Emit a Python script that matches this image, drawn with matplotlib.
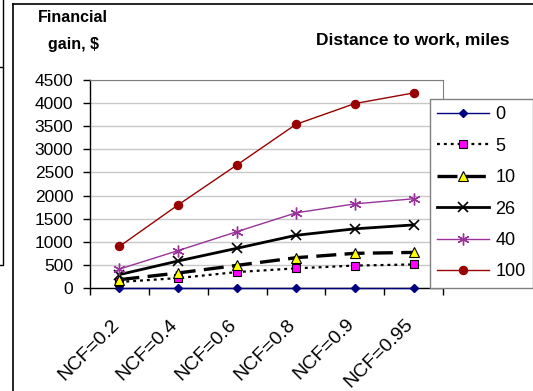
import numpy as np
import matplotlib
matplotlib.use('Agg')
import matplotlib.pyplot as plt
from matplotlib.lines import Line2D
from matplotlib.transforms import ScaledTranslation

plt.rcParams['font.family'] = ['Liberation Sans', 'DejaVu Sans']

categories = ['NCF=0.2', 'NCF=0.4', 'NCF=0.6', 'NCF=0.8', 'NCF=0.9', 'NCF=0.95']
distances = ['0', '5', '10', '26', '40', '100']

gain_0 = [0, 0, 0, 0, 0, 0]
gain_5 = [130, 215, 345, 425, 485, 510]
gain_10 = [180, 325, 490, 655, 750, 770]
gain_26 = [290, 585, 860, 1140, 1280, 1365]
gain_40 = [410, 810, 1220, 1625, 1820, 1930]
gain_100 = [900, 1800, 2665, 3540, 3990, 4220]

series = [gain_0, gain_5, gain_10, gain_26, gain_40, gain_100]

styles = [
    dict(color='#000080', lw=1.0, ls='-', marker='D', ms=4.5, mfc='#000080', mec='#000080'),
    dict(color='black', lw=1.6, ls=(0, (1.3, 1.8)), marker='s', ms=5.5, mfc='#ff00ff', mec='black', mew=0.8),
    dict(color='black', lw=2.4, ls=(0, (6, 2.5)), marker='^', ms=7, mfc='#ffff00', mec='black', mew=0.8),
    dict(color='black', lw=2.0, ls='-', marker='x', ms=6.5, mfc='black', mec='black', mew=1.2),
    dict(color='#993399', lw=1.0, ls='-', marker=(6, 2, 0), ms=8.5, mfc='#993399', mec='#993399', mew=1.0),
    dict(color='#990000', lw=1.0, ls='-', marker='o', ms=5.8, mfc='#990000', mec='#990000'),
]

W, H = 533, 391
fig = plt.figure(figsize=(W / 100, H / 100), dpi=100)
ax = fig.add_axes([90 / W, 1 - 288 / H, 353 / W, 208 / H])

x = np.arange(len(categories))
handles = []
for vals, st, lab in zip(series, styles, distances):
    line, = ax.plot(x, vals, label=lab, clip_on=False, zorder=3, **st)
    handles.append(line)

ax.set_xlim(-0.5, len(categories) - 0.5)
ax.set_ylim(0, 4500)
ax.set_yticks(np.arange(0, 4501, 500))
ax.yaxis.grid(True, color='#c8c8c8', lw=1)
ax.set_axisbelow(True)

ax.set_xticks(np.arange(-0.5, len(categories), 1.0))
ax.set_xticklabels([])
ax.set_xticks(x, minor=True)
ax.set_xticklabels(categories, minor=True, rotation=45, ha='right', va='top',
                   rotation_mode='anchor', fontsize=14)
ax.tick_params(axis='x', which='minor', length=0, pad=20)
ax.tick_params(axis='x', which='major', length=5, width=1, direction='out', color='black')
ax.tick_params(axis='y', length=5, width=1, direction='out', labelsize=12.5, pad=7)
shift = ScaledTranslation(-9 / 100, 0, fig.dpi_scale_trans)
for lbl in ax.get_xticklabels(minor=True):
    lbl.set_transform(lbl.get_transform() + shift)

for s in ['top', 'right']:
    ax.spines[s].set_color('#808080')
for s in ['left', 'bottom']:
    ax.spines[s].set_color('black')
    ax.spines[s].set_linewidth(1)

leg = fig.legend(handles=handles, loc='upper right',
                 bbox_to_anchor=(1.0, 1 - 99 / H),
                 fontsize=13, handlelength=2.9, labelspacing=0.8,
                 borderpad=0.4, borderaxespad=0.0, handletextpad=0.35,
                 fancybox=False, edgecolor='#808080', framealpha=1)
leg.get_frame().set_linewidth(1)

fig.text(73 / W, 1 - 18 / H, 'Financial', ha='center', va='center',
         fontsize=11.5, fontweight='bold')
fig.text(73 / W, 1 - 44 / H, 'gain, $', ha='center', va='center',
         fontsize=11.5, fontweight='bold')
fig.text(510 / W, 1 - 40 / H, 'Distance to work, miles', ha='right', va='center',
         fontsize=12.5, fontweight='bold')

# chart frame and neighbouring panel edges
fig.add_artist(Line2D([13 / W, 13 / W], [0, 1 - 4 / H], color='black', lw=1.2))
fig.add_artist(Line2D([13 / W, 1], [1 - 4 / H, 1 - 4 / H], color='black', lw=1.2))
fig.add_artist(Line2D([3 / W, 3 / W], [1 - 67 / H, 1], color='black', lw=1))
fig.add_artist(Line2D([0, 3 / W, 3 / W, 0], [1 - 67 / H, 1 - 67 / H, 1 - 265 / H, 1 - 265 / H],
                      color='black', lw=1))

fig.savefig('out.png', dpi=100)
